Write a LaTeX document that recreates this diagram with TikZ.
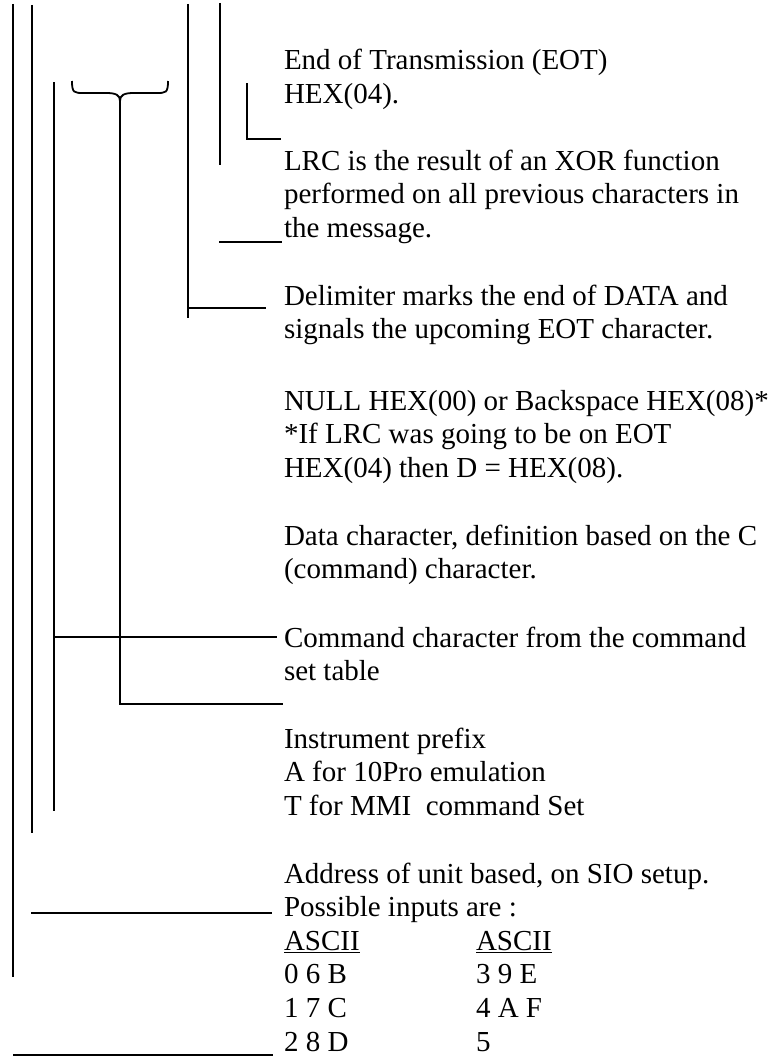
\documentclass[tikz,border=0pt]{standalone}
\usepackage{fontspec}
\setmainfont{Liberation Serif}
\newcommand\txtfont{\fontsize{29}{33.6}\selectfont}
\tikzset{
  lbl/.style={anchor=base west, inner sep=0pt, outer sep=0pt, font=\txtfont},
  ln/.style={line width=1.8pt, line cap=butt, line join=miter}
}
\begin{document}
\begin{tikzpicture}[x=1pt,y=-1pt]
\useasboundingbox (0,0) rectangle (775,1057);
% ---- text
\node[lbl] (eotA) at (284,70) {End of Transmission (EOT)};
\node[lbl] (eotB) at (284,103.6) {HEX(04).};
\node[lbl] (lrcA) at (284,170) {LRC is the result of an XOR function};
\node[lbl] (lrcB) at (284,203.6) {performed on all previous characters in};
\node[lbl] (lrcC) at (284,237.2) {the message.};
\node[lbl] (delA) at (284,305) {Delimiter marks the end of DATA and};
\node[lbl] (delB) at (284,338.6) {signals the upcoming EOT character.};
\node[lbl] (nulA) at (284,410) {NULL HEX(00) or Backspace HEX(08)*};
\node[lbl] (nulB) at (284,443.6) {*If LRC was going to be on EOT};
\node[lbl] (nulC) at (284,477.2) {HEX(04) then D = HEX(08).};
\node[lbl] (datA) at (284,545) {Data character, definition based on the C};
\node[lbl] (datB) at (284,578.6) {(command) character.};
\node[lbl] (cmdA) at (284,647) {Command character from the command};
\node[lbl] (cmdB) at (284,680.6) {set table};
\node[lbl] (insA) at (284,748) {Instrument prefix};
\node[lbl] (insB) at (284,781.6) {A for 10Pro emulation};
\node[lbl] (insC) at (284,815.2) {T for MMI\ \ command Set};
\node[lbl] (adrA) at (284,883) {Address of unit based, on SIO setup.};
\node[lbl] (adrB) at (284,916.6) {Possible inputs are :};
\node[lbl] (hdA) at (284,950.2) {\underline{ASCII}};
\node[lbl] (hdB) at (476,950.2) {\underline{ASCII}};
\node[lbl] (r1A) at (284,983.8) {0 6 B};
\node[lbl] (r1B) at (476,983.8) {3 9 E};
\node[lbl] (r2A) at (284,1017.4) {1 7 C};
\node[lbl] (r2B) at (476,1017.4) {4 A F};
\node[lbl] (r3A) at (284,1051) {2 8 D};
\node[lbl] (r3B) at (476,1051) {5};
% ---- coordinates
\coordinate (v1t) at (13,4);   \coordinate (v1b) at (13,977);
\coordinate (v2t) at (32,5);   \coordinate (v2b) at (32,833);
\coordinate (v3t) at (54,82);  \coordinate (v3b) at (54,811);
\coordinate (v3h) at (54,637); \coordinate (cmdE) at (277,637);
\coordinate (cusp) at (120,101); \coordinate (stemb) at (120,704); \coordinate (insE) at (283,704);
\coordinate (v5t) at (188,4);  \coordinate (v5b) at (188,318);
\coordinate (v5h) at (188,308); \coordinate (delE) at (266,308);
\coordinate (v6t) at (220,3);  \coordinate (v6b) at (220,165);
\coordinate (ltop) at (247,83); \coordinate (lcor) at (247,139); \coordinate (eotE) at (281,139);
\coordinate (lrcS) at (219,242); \coordinate (lrcE) at (282,242);
\coordinate (adrS) at (31,913); \coordinate (adrE) at (272,913);
\coordinate (botS) at (13,1055); \coordinate (botE) at (273,1055);
% ---- lines
\draw[ln] (v1t) -- (v1b);
\draw[ln] (v2t) -- (v2b);
\draw[ln] (v3t) -- (v3b);
\draw[ln] (v3h) -- (cmdE);
\draw[ln] (72,81) .. controls (72,93) and (74,93) .. (84,93) -- (106,93)
          .. controls (116,93) and (120,95) .. (cusp);
\draw[ln] (168,81) .. controls (168,93) and (166,93) .. (156,93) -- (134,93)
          .. controls (124,93) and (120,95) .. (cusp);
\draw[ln] (cusp) -- (stemb) -- (insE);
\draw[ln] (v5t) -- (v5b);
\draw[ln] (v5h) -- (delE);
\draw[ln] (v6t) -- (v6b);
\draw[ln] (ltop) -- (lcor) -- (eotE);
\draw[ln] (lrcS) -- (lrcE);
\draw[ln] (adrS) -- (adrE);
\draw[ln] (botS) -- (botE);
\end{tikzpicture}
\end{document}
